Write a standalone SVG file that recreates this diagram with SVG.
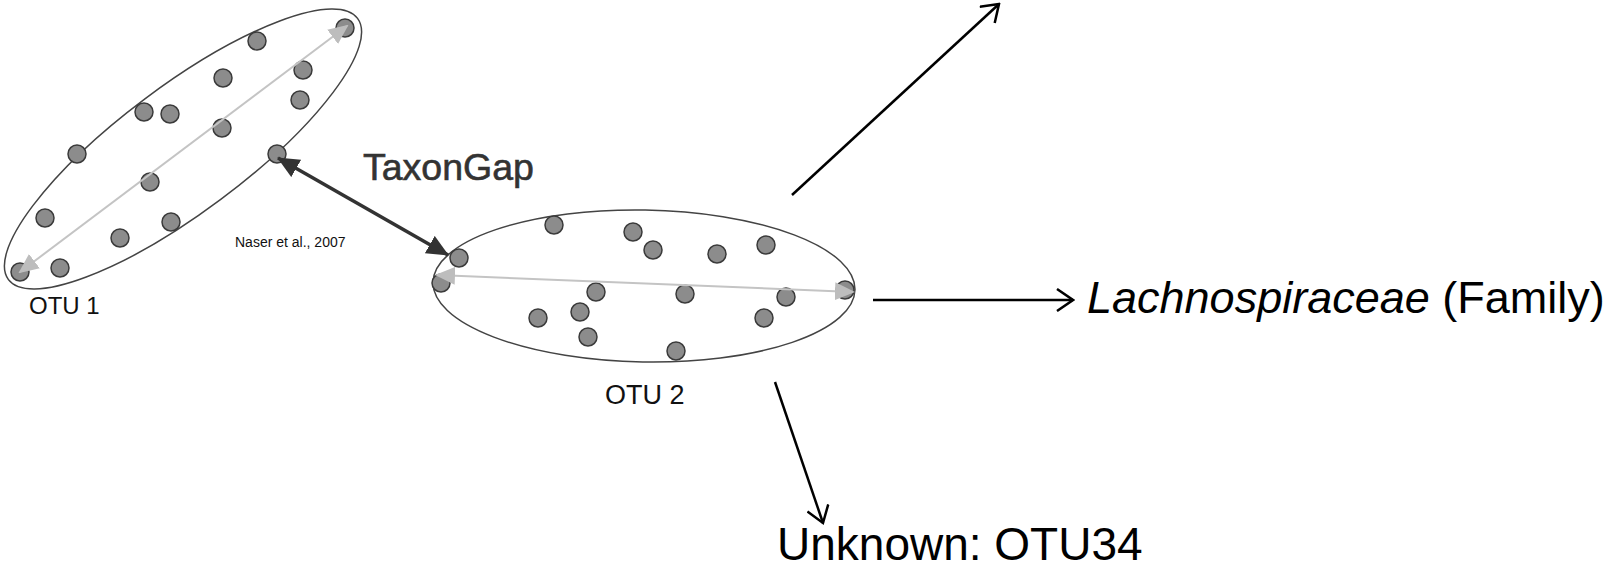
<svg xmlns="http://www.w3.org/2000/svg" width="1609" height="572" viewBox="0 0 1609 572">
<style>
.cl{fill:none;stroke:#444;stroke-width:1.5}
.dot{fill:#8c8c8c;stroke:#3a3a3a;stroke-width:1.5}
.ax{stroke:#c4c4c4;stroke-width:2;fill:none}
.gap{stroke:#333;stroke-width:3.5;fill:none}
.arr{stroke:#000;stroke-width:2.5;fill:none}
.t{font-family:"Liberation Sans",Arial,sans-serif}
</style>
<defs>
<marker id="ga" viewBox="0 0 20 20" refX="18" refY="10" markerWidth="20" markerHeight="20" markerUnits="userSpaceOnUse" orient="auto-start-reverse">
<path d="M0,1 L20,10 L0,19 Z" fill="#bdbdbd"/>
</marker>
<marker id="da" viewBox="0 0 22 20" refX="21" refY="10" markerWidth="22" markerHeight="20" markerUnits="userSpaceOnUse" orient="auto-start-reverse">
<path d="M0,0 L22,10 L0,20 Z" fill="#333"/>
</marker>
<marker id="oa" viewBox="0 0 20 24" refX="18" refY="12" markerWidth="20" markerHeight="24" markerUnits="userSpaceOnUse" orient="auto">
<path d="M2,1 L18,12 L2,23" fill="none" stroke="#000" stroke-width="2.5"/>
</marker>
</defs>
<rect width="1609" height="572" fill="#fff"/>
<g id="otu1">
<ellipse class="cl" cx="183" cy="149" rx="218" ry="63" transform="rotate(-36.8 183 149)"/>
<circle class="dot" cx="345" cy="28" r="9"/>
<circle class="dot" cx="257" cy="41" r="9"/>
<circle class="dot" cx="303" cy="70" r="9"/>
<circle class="dot" cx="223" cy="78" r="9"/>
<circle class="dot" cx="300" cy="100" r="9"/>
<circle class="dot" cx="144" cy="112" r="9"/>
<circle class="dot" cx="170" cy="114" r="9"/>
<circle class="dot" cx="222" cy="128" r="9"/>
<circle class="dot" cx="77" cy="154" r="9"/>
<circle class="dot" cx="277" cy="154" r="9"/>
<circle class="dot" cx="150" cy="182" r="9"/>
<circle class="dot" cx="45" cy="218" r="9"/>
<circle class="dot" cx="171" cy="222" r="9"/>
<circle class="dot" cx="120" cy="238" r="9"/>
<circle class="dot" cx="60" cy="268" r="9"/>
<circle class="dot" cx="20" cy="272" r="9"/>
<line class="ax" x1="20" y1="272" x2="347" y2="26" marker-start="url(#ga)" marker-end="url(#ga)"/>
<text class="t" x="29" y="314" font-size="24" fill="#111">OTU 1</text>
</g>
<g id="otu2">
<ellipse class="cl" cx="644" cy="286" rx="211" ry="76" transform="rotate(1 644 286)"/>
<circle class="dot" cx="554" cy="225" r="9"/>
<circle class="dot" cx="633" cy="232" r="9"/>
<circle class="dot" cx="653" cy="250" r="9"/>
<circle class="dot" cx="717" cy="254" r="9"/>
<circle class="dot" cx="766" cy="245" r="9"/>
<circle class="dot" cx="459" cy="258" r="9"/>
<circle class="dot" cx="441" cy="283" r="9"/>
<circle class="dot" cx="596" cy="292" r="9"/>
<circle class="dot" cx="685" cy="294" r="9"/>
<circle class="dot" cx="786" cy="297" r="9"/>
<circle class="dot" cx="845" cy="290" r="9"/>
<circle class="dot" cx="538" cy="318" r="9"/>
<circle class="dot" cx="580" cy="312" r="9"/>
<circle class="dot" cx="764" cy="318" r="9"/>
<circle class="dot" cx="588" cy="337" r="9"/>
<circle class="dot" cx="676" cy="351" r="9"/>
<line class="ax" x1="437" y1="275" x2="853" y2="292" marker-start="url(#ga)" marker-end="url(#ga)"/>
<text class="t" x="605" y="404" font-size="27" fill="#111">OTU 2</text>
</g>
<g id="taxongap">
<text class="t" x="363" y="180" font-size="37.5" fill="#333" stroke="#333" stroke-width="0.6">TaxonGap</text>
<text class="t" x="235" y="247" font-size="14" fill="#111">Naser et al., 2007</text>
</g>
<g id="connectors">
<line class="gap" x1="278" y1="158" x2="448" y2="255" marker-start="url(#da)" marker-end="url(#da)"/>
<line class="arr" x1="792" y1="195" x2="999" y2="4" marker-end="url(#oa)"/>
<line class="arr" x1="873" y1="300" x2="1073" y2="300" marker-end="url(#oa)"/>
<line class="arr" x1="775" y1="382" x2="823" y2="523" marker-end="url(#oa)"/>
</g>
<g id="family">
<text class="t" x="1087" y="313" font-size="45" fill="#000"><tspan font-style="italic">Lachnospiraceae</tspan> (Family)</text>
</g>
<g id="unknown">
<text class="t" x="777" y="560" font-size="46" fill="#000">Unknown: OTU34</text>
</g>
</svg>
